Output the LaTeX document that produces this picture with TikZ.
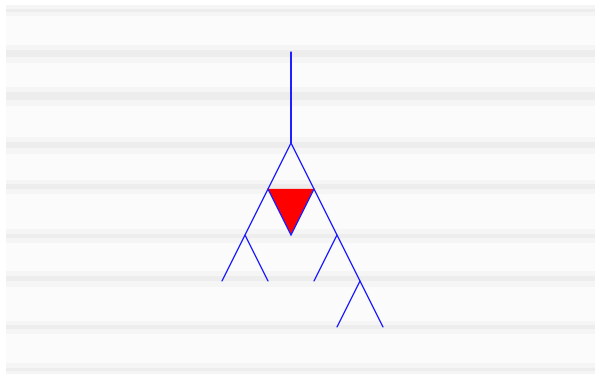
\documentclass[tikz,border=0pt]{standalone}
\begin{document}
\begin{tikzpicture}[x=1pt,y=-1pt,
  branch/.style={blue!88!white, line width=1.3pt, line cap=round},
  band/.style={fill=gray!14},
  softband/.style={fill=gray!8}]
\useasboundingbox (0,0) rectangle (595,374);
\fill[white] (0,0) rectangle (595,374);
\fill[gray!3] (6,8) rectangle (595,372);
% stripes
\foreach \a/\b in {8/13, 48/60, 90/103, 140/151, 183/191, 232/240, 274/284, 324/331, 366/372}
  \fill[softband] (6,\a-3) rectangle (595,\b+3);
\foreach \a/\b in {9/12, 50/57, 92/100, 142/148, 184/189, 234/238, 276/281, 325/329, 368/371}
  \fill[band] (6,\a) rectangle (595,\b);
% tree coordinates
\coordinate (top) at (291,52);
\coordinate (r) at (291,143);
\coordinate (l1) at (268,189);
\coordinate (r1) at (314,189);
\coordinate (l2) at (245,235);
\coordinate (m) at (291,235);
\coordinate (r2) at (337,235);
\coordinate (ll) at (222,281);
\coordinate (lr) at (268,281);
\coordinate (rl) at (314,281);
\coordinate (r3) at (360,281);
\coordinate (rrl) at (337,327);
\coordinate (rrr) at (383,327);
% red triangle
\fill[red] (l1) -- (r1) -- (m) -- cycle;
\draw[branch] (l1) -- (m) -- (r1);
% branches
\draw[branch] (top) -- (r);
\draw[branch] (r) -- (l1) -- (l2) -- (ll);
\draw[branch] (l2) -- (lr);
\draw[branch] (r) -- (r1) -- (r2) -- (r3) -- (rrr);
\draw[branch] (r2) -- (rl);
\draw[branch] (r3) -- (rrl);
\end{tikzpicture}
\end{document}
